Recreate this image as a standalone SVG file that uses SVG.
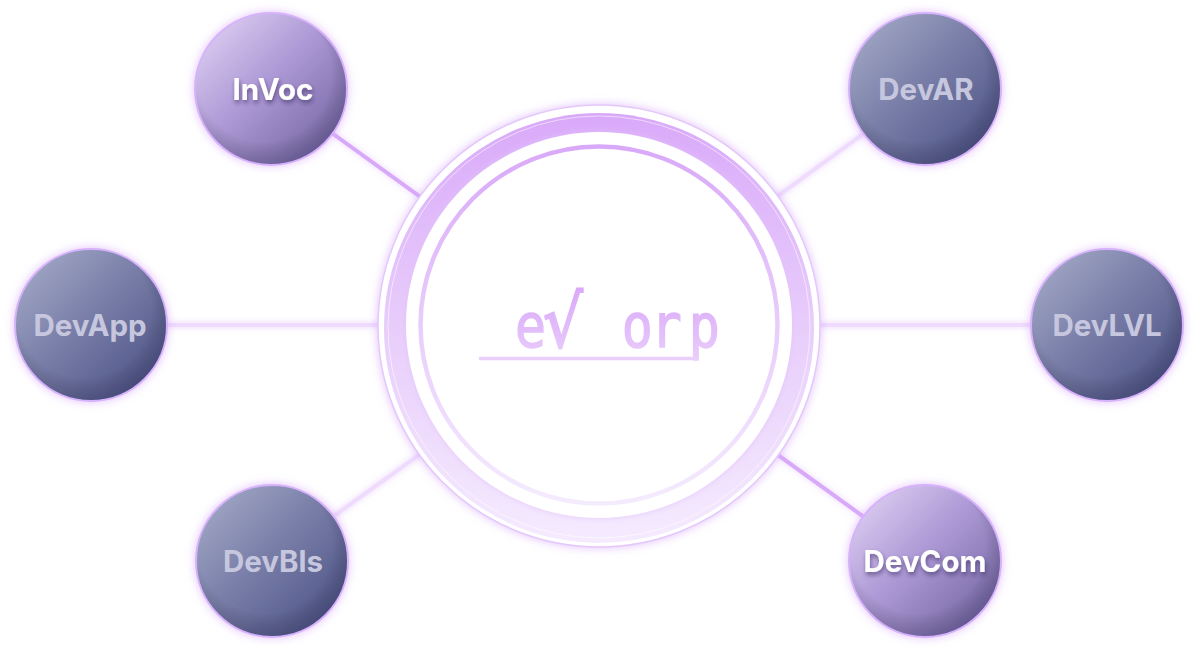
<svg xmlns="http://www.w3.org/2000/svg" width="1198" height="652" viewBox="0 0 1198 652">
  <defs>
    <linearGradient id="gPurple" x1="0" y1="0" x2="1" y2="1">
      <stop offset="0" stop-color="#e6d8f7"/>
      <stop offset="0.45" stop-color="#ae9ad6"/>
      <stop offset="1" stop-color="#675b98"/>
    </linearGradient>
    <linearGradient id="gDark" x1="0" y1="0" x2="1" y2="1">
      <stop offset="0" stop-color="#aab0cb"/>
      <stop offset="0.45" stop-color="#7a7fa9"/>
      <stop offset="1" stop-color="#454b7e"/>
    </linearGradient>
    <radialGradient id="gShade" cx="0.45" cy="0.4" r="0.6">
      <stop offset="0.75" stop-color="#000" stop-opacity="0"/>
      <stop offset="1" stop-color="#1c1840" stop-opacity="0.22"/>
    </radialGradient>
    <linearGradient id="gRing" x1="0" y1="0" x2="0" y2="1">
      <stop offset="0" stop-color="#d9a9f9"/>
      <stop offset="0.5" stop-color="#e8cdfb"/>
      <stop offset="1" stop-color="#f5ebfe"/>
    </linearGradient>
    <linearGradient id="gLogo" x1="0" y1="0" x2="0" y2="1">
      <stop offset="0" stop-color="#d9a4f9"/>
      <stop offset="1" stop-color="#e9cffb"/>
    </linearGradient>
    <filter id="fGlow" x="-30%" y="-30%" width="160%" height="160%">
      <feDropShadow dx="0" dy="0" stdDeviation="5" flood-color="#d6a6fa" flood-opacity="0.7"/>
    </filter>
    <filter id="fLineGlow" filterUnits="userSpaceOnUse" x="0" y="0" width="1198" height="652">
      <feDropShadow dx="0" dy="0" stdDeviation="3" flood-color="#d6a6fa" flood-opacity="0.5"/>
    </filter>
    <filter id="fTextShadow" x="-20%" y="-40%" width="140%" height="180%">
      <feDropShadow dx="1" dy="3" stdDeviation="2" flood-color="#2e2452" flood-opacity="0.55"/>
    </filter>
    <filter id="fInnerGlow" x="-10%" y="-10%" width="120%" height="120%">
      <feDropShadow dx="0" dy="0" stdDeviation="3" flood-color="#e2c2fb" flood-opacity="0.8"/>
    </filter>
  </defs>
  <style>
    .node { stroke: #d7b2fc; stroke-width: 2; filter: url(#fGlow); }
    .lbl { font-family: Inter, "Liberation Sans", sans-serif; font-weight: 700; font-size: 29.5px; text-anchor: middle; }
    .lbl-hi { fill: #ffffff; filter: url(#fTextShadow); }
    .lbl-lo { fill: #c6c7de; }
    .conn { stroke-width: 4; stroke-linecap: butt; filter: url(#fLineGlow); }
    .conn-hi { stroke: #d9a9f9; }
    .conn-lo { stroke: #eedbfd; }
  </style>
  <rect x="0" y="0" width="1198" height="652" fill="#ffffff"/>

  <g id="connectors">
    <line class="conn conn-hi" x1="271" y1="89" x2="599" y2="326"/>
    <line class="conn conn-lo" x1="925" y1="89" x2="599" y2="326"/>
    <line class="conn conn-lo" x1="91" y1="325" x2="599" y2="325"/>
    <line class="conn conn-lo" x1="1107" y1="325" x2="599" y2="325"/>
    <line class="conn conn-lo" x1="271" y1="561" x2="599" y2="326"/>
    <line class="conn conn-hi" x1="925" y1="561" x2="599" y2="326"/>
  </g>

  <g id="hub">
    <circle cx="599" cy="326" r="221" fill="#ffffff" stroke="#e4c8fb" stroke-width="1.5" filter="url(#fGlow)"/>
    <circle cx="599" cy="328" r="215" fill="url(#gRing)"/>
    <circle cx="599" cy="327" r="211" fill="none" stroke="#ffffff" stroke-opacity="0.55" stroke-width="1"/>
    <circle cx="599" cy="325" r="193" fill="#ffffff" filter="url(#fInnerGlow)"/>
    <circle cx="599" cy="325" r="178.5" fill="#ffffff" stroke="url(#gRing)" stroke-width="4.5"/>
    <text transform="translate(515 347) scale(0.86 1)" font-family="'DejaVu Sans Mono', 'Liberation Mono', monospace" font-size="60" fill="url(#gLogo)" stroke="url(#gLogo)" stroke-width="1.4" xml:space="preserve">e<tspan x="33" font-family="'DejaVu Sans', sans-serif" font-size="72" stroke-width="2.2">√</tspan><tspan x="88 124 158 202"> orp</tspan></text>
    <path d="M479 358.5 H697" fill="none" stroke="#ebcffb" stroke-width="3.5"/>
  </g>

  <g id="node-invoc">
    <circle class="node" cx="271" cy="89" r="76" fill="url(#gPurple)"/>
    <circle cx="271" cy="89" r="75" fill="url(#gShade)"/>
    <text class="lbl lbl-hi" x="273" y="100">InVoc</text>
  </g>
  <g id="node-devar">
    <circle class="node" cx="925" cy="89" r="76" fill="url(#gDark)"/>
    <circle cx="925" cy="89" r="75" fill="url(#gShade)"/>
    <text class="lbl lbl-lo" x="926" y="100">DevAR</text>
  </g>
  <g id="node-devapp">
    <circle class="node" cx="91" cy="325" r="76" fill="url(#gDark)"/>
    <circle cx="91" cy="325" r="75" fill="url(#gShade)"/>
    <text class="lbl lbl-lo" x="90" y="336">DevApp</text>
  </g>
  <g id="node-devlvl">
    <circle class="node" cx="1107" cy="325" r="76" fill="url(#gDark)"/>
    <circle cx="1107" cy="325" r="75" fill="url(#gShade)"/>
    <text class="lbl lbl-lo" x="1107" y="336">DevLVL</text>
  </g>
  <g id="node-devbls">
    <circle class="node" cx="272" cy="561" r="76" fill="url(#gDark)"/>
    <circle cx="272" cy="561" r="75" fill="url(#gShade)"/>
    <text class="lbl lbl-lo" x="273" y="572">DevBls</text>
  </g>
  <g id="node-devcom">
    <circle class="node" cx="925" cy="561" r="76" fill="url(#gPurple)"/>
    <circle cx="925" cy="561" r="75" fill="url(#gShade)"/>
    <text class="lbl lbl-hi" x="925" y="572">DevCom</text>
  </g>
</svg>
